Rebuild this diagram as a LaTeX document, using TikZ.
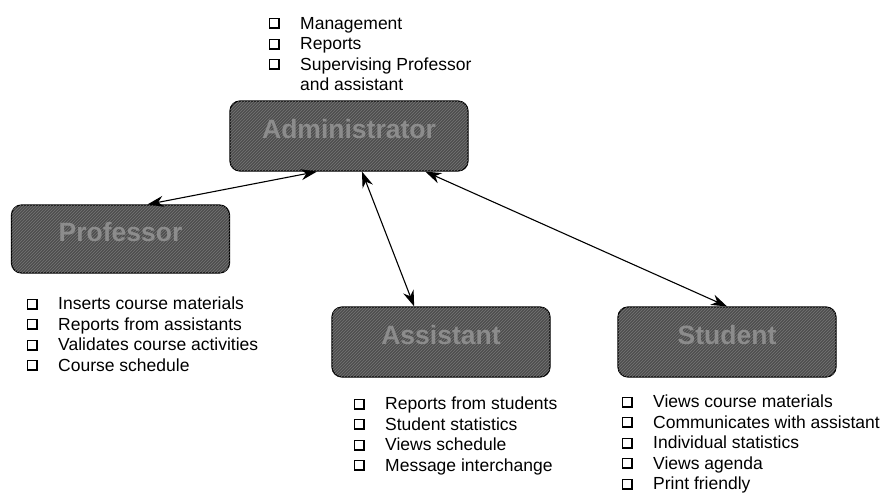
\documentclass[tikz,border=0pt]{standalone}
\usepackage{fontspec}
\setmainfont{Liberation Sans}
\usetikzlibrary{arrows.meta,patterns}

\definecolor{boxgray}{RGB}{78,78,78}
\definecolor{stripegray}{RGB}{118,118,118}
\definecolor{labelgray}{RGB}{140,140,140}
% shadowed check box in front of each item
\newcommand{\chk}{\makebox[31pt][l]{\rlap{\rule{11pt}{11pt}}%
  \hspace{0.9pt}\raisebox{2.1pt}{\color{white}\rule{8pt}{8pt}}}}

\begin{document}
\begin{tikzpicture}[x=1pt,y=-1pt,line cap=round,line join=round,
  role/.style={draw=black,line width=1.2pt,rounded corners=10pt,fill=boxgray,
    postaction={pattern=north east lines,pattern color=stripegray},
    minimum width=218pt,minimum height=70pt,inner sep=0pt,
    text=labelgray,font=\fontsize{26.5}{30}\selectfont\bfseries,
    text height=19pt,text depth=14pt},
  duties/.style={anchor=north west,align=left,inner sep=0pt,
    font=\fontsize{17.5}{20.5}\selectfont},
  link/.style={{Stealth[length=16pt,width=11pt]}-{Stealth[length=16pt,width=11pt]},line width=1.1pt}]
  \useasboundingbox (0,0) rectangle (888,493);
  % the four roles
  \node[role,minimum width=238pt] (admin) at (349,136) {Administrator};
  \node[role,minimum height=68pt] (prof) at (120.5,239) {Professor};
  \node[role] (assist) at (441,342) {Assistant};
  \node[role] (student) at (727,342) {Student};
  % what each role does
  \node[duties] (adminlist) at (269,17) {\chk Management\\ \chk Reports\\
    \chk Supervising Professor\\ \hspace*{31pt}and assistant};
  \node[duties] (proflist) at (27,297) {\chk Inserts course materials\\
    \chk Reports from assistants\\ \chk Validates course activities\\
    \chk Course schedule};
  \node[duties] (assistlist) at (354,397) {\chk Reports from students\\
    \chk Student statistics\\ \chk Views schedule\\ \chk Message interchange};
  \node[duties] (studentlist) at (622,395) {\chk Views course materials\\
    \chk Communicates with assistant\\ \chk Individual statistics\\
    \chk Views agenda\\ \chk Print friendly};
  % links
  \draw[link] (admin.228) -- (prof.52);
  \draw[link] (admin.290) -- (assist.127);
  \draw[link] (admin.335.5) -- (student.north);
\end{tikzpicture}
\end{document}
